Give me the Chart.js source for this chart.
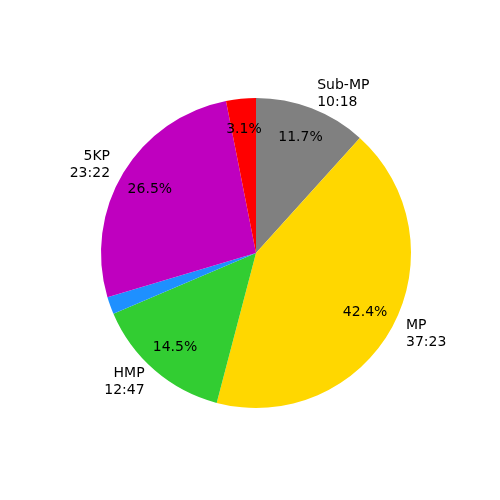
<!DOCTYPE html>
<html>
<head>
<meta charset="utf-8">
<script src="https://cdn.jsdelivr.net/npm/chart.js@4/dist/chart.umd.min.js"></script>
<style>
  html, body { margin: 0; padding: 0; background: #fff; }
  #wrap { width: 500px; height: 500px; }
</style>
</head>
<body>
<div id="wrap"><canvas id="pieChart" width="500" height="500"></canvas></div>
<script>
// slice labels (empty = no outer label)
var labels = ['Sub-MP\n10:18', 'MP\n37:23', 'HMP\n12:47', '', '5KP\n23:22', ''];
// durations in seconds
var seconds = [618, 2243, 767, 96, 1402, 164];
var colors = ['#808080', '#FFD700', '#32CD32', '#1E90FF', '#BF00BF', '#FF0000'];

var total = seconds.reduce(function(a, b) { return a + b; }, 0);

// draws labels and percents like matplotlib does
var pieText = {
  id: 'pieText',
  afterDatasetsDraw: function(chart) {
    var ctx = chart.ctx;
    var meta = chart.getDatasetMeta(0);
    ctx.save();
    ctx.font = '14px "DejaVu Sans"';
    ctx.fillStyle = '#000';
    ctx.textBaseline = 'middle';
    var lineH = 16.7;
    meta.data.forEach(function(arc, i) {
      var a = (arc.startAngle + arc.endAngle) / 2;
      var r = arc.outerRadius;
      var pct = seconds[i] / total * 100;
      if (pct >= 2) {
        ctx.textAlign = 'center';
        ctx.fillText(pct.toFixed(1) + '%', arc.x + 0.8 * r * Math.cos(a), arc.y + 0.8 * r * Math.sin(a));
      }
      if (labels[i]) {
        var lx = arc.x + 1.1 * r * Math.cos(a);
        var ly = arc.y + 1.1 * r * Math.sin(a);
        var lines = labels[i].split('\n');
        ctx.textAlign = lx >= arc.x ? 'left' : 'right';
        var y0 = ly - (lines.length - 1) * lineH / 2;
        lines.forEach(function(t, k) {
          ctx.fillText(t, lx, y0 + k * lineH);
        });
      }
    });
    ctx.restore();
  }
};

var ctx = document.getElementById('pieChart').getContext('2d');
var pieChart = new Chart(ctx, {
  type: 'pie',
  data: {
    labels: labels,
    datasets: [{
      data: seconds,
      backgroundColor: colors,
      borderWidth: 0
    }]
  },
  options: {
    responsive: false,
    animation: false,
    layout: { padding: { left: 101, right: 89, top: 98, bottom: 92 } },
    plugins: {
      legend: { display: false },
      tooltip: { enabled: false }
    }
  },
  plugins: [pieText]
});
</script>
</body>
</html>
